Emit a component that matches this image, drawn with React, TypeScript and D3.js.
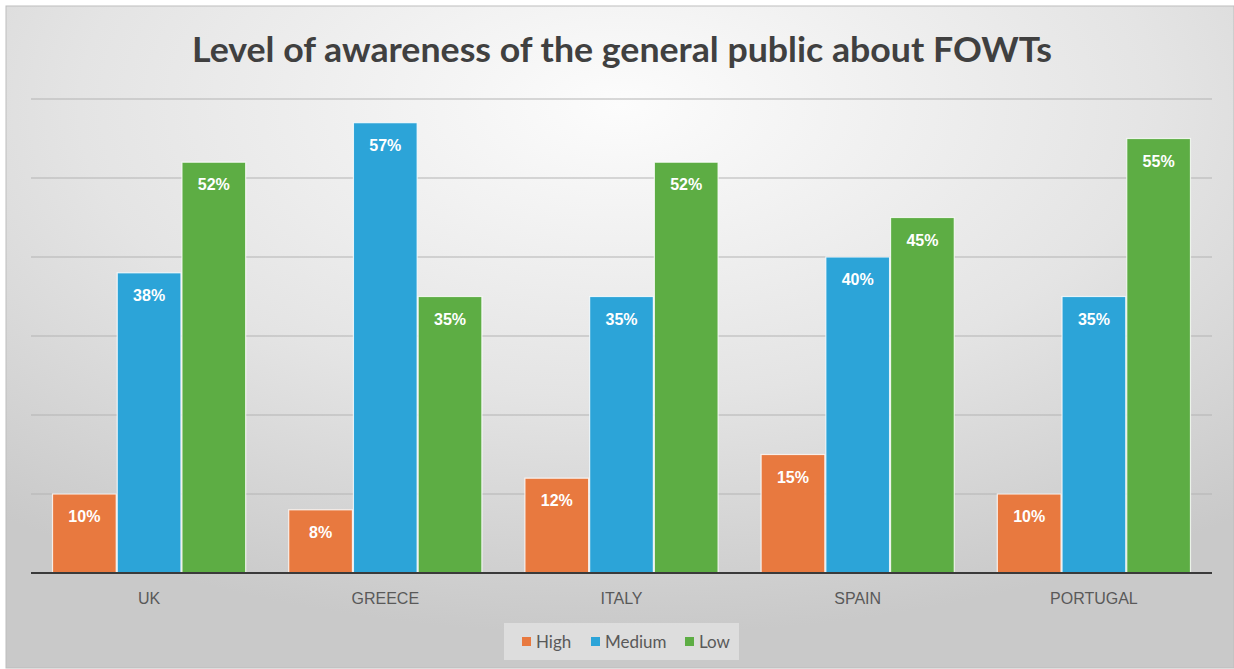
import React from "react";
import * as d3 from "d3";

const categories = ["UK", "GREECE", "ITALY", "SPAIN", "PORTUGAL"];
const seriesNames = ["High", "Medium", "Low"];
const high = [10, 8, 12, 15, 10];
const medium = [38, 57, 35, 40, 35];
const low = [52, 35, 52, 45, 55];
const colors = ["#E8793F", "#2CA4D8", "#5DAD44"];
const yTicks = [0, 10, 20, 30, 40, 50, 60];

const W = 1234;
const H = 669;

export default function App() {
  const series = [high, medium, low];
  const left = 31, right = 1212, top = 99, bottom = 573;
  const x0 = d3.scaleBand<string>().domain(categories).range([left, right]).paddingInner(0.178).paddingOuter(0.089);
  const x1 = d3.scaleBand<string>().domain(seriesNames).range([0, x0.bandwidth()]).padding(0);
  const y = d3.scaleLinear().domain([0, 60]).range([bottom, top]);
  const catScale = d3.scaleBand<string>().domain(categories).range([left, right]);
  const legendX = [522, 591, 685];

  return (
    <svg width={W} height={H} style={{ position: "absolute", left: 0, top: 0, display: "block" }}>
      <defs>
        <radialGradient id="bg" cx="0.5" cy="0.15" r="0.8" gradientUnits="objectBoundingBox">
          <stop offset="0" stopColor="#fcfcfc" />
          <stop offset="0.55" stopColor="#e4e4e4" />
          <stop offset="1" stopColor="#c9c9c9" />
        </radialGradient>
      </defs>
      <rect x={0} y={0} width={W} height={H} fill="#ffffff" />
      <rect x={6} y={6} width={W - 6} height={H - 7} fill="url(#bg)" stroke="#bdbdbd" strokeWidth={1} />
      <text x={622} y={62} textAnchor="middle" fontFamily="Lato, 'Open Sans', sans-serif" fontWeight={700} fontSize={35} fill="#404040" textLength={860} lengthAdjust="spacingAndGlyphs">
        Level of awareness of the general public about FOWTs
      </text>
      {yTicks.filter(t => t > 0).map(t => (
        <line key={t} x1={left} x2={right} y1={y(t)} y2={y(t)} stroke="#b4b4b4" strokeWidth={1.2} />
      ))}
      {categories.map((c, ci) => (
        <g key={c} transform={`translate(${x0(c)},0)`}>
          {seriesNames.map((s, si) => {
            const v = series[si][ci];
            const bx = x1(s)!;
            const bw = x1.bandwidth();
            return (
              <g key={s}>
                <rect x={bx + 0.5} y={y(v)} width={bw - 1} height={bottom - y(v)} fill={colors[si]} stroke="#ffffff" strokeOpacity={0.8} strokeWidth={1.2} />
                <text x={bx + bw / 2} y={y(v) + 28} textAnchor="middle" fontFamily="'Liberation Sans', Arial, sans-serif" fontWeight={700} fontSize={16} fill="#ffffff">
                  {v}%
                </text>
              </g>
            );
          })}
        </g>
      ))}
      <line x1={left} x2={right} y1={bottom} y2={bottom} stroke="#3a3a3a" strokeWidth={2.2} />
      {categories.map(c => (
        <text key={c} x={catScale(c)! + catScale.bandwidth() / 2} y={604} textAnchor="middle" fontFamily="'Liberation Sans', Arial, sans-serif" fontSize={16} fill="#595959">
          {c}
        </text>
      ))}
      <rect x={504} y={623} width={235} height={37} fill="#e6e6e6" opacity={0.7} />
      {seriesNames.map((s, i) => (
        <g key={s}>
          <rect x={legendX[i]} y={637} width={9} height={9} fill={colors[i]} />
          <text x={legendX[i] + 14} y={648} fontFamily="Lato, 'Open Sans', sans-serif" fontSize={17} fill="#595959">{s}</text>
        </g>
      ))}
    </svg>
  );
}
